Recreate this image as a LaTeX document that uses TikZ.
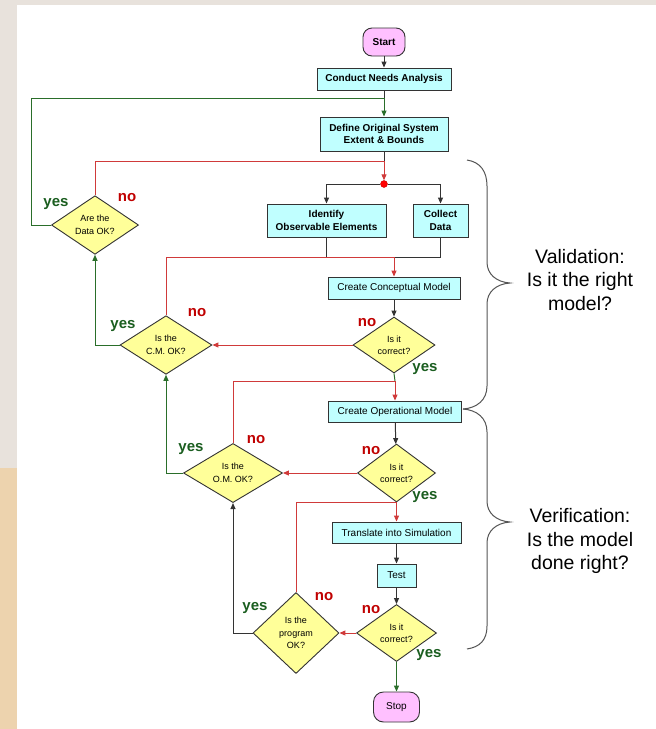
\documentclass[tikz,border=0pt]{standalone}
\usepackage{fontspec}
\setmainfont{Liberation Sans}
\usetikzlibrary{arrows.meta,shapes.geometric}

\definecolor{boxfill}{HTML}{C0FFFF}
\definecolor{pinkfill}{HTML}{FFC0FF}
\definecolor{diafill}{HTML}{FFFF99}
\definecolor{edge}{HTML}{333333}
\definecolor{glinecol}{HTML}{2A6E2A}
\definecolor{rlinecol}{HTML}{D03A3A}
\definecolor{gtext}{HTML}{1B5E20}
\definecolor{rtext}{HTML}{C00000}
\definecolor{bgtop}{HTML}{E8E2DC}
\definecolor{bgside}{HTML}{EDD3AE}
\definecolor{bracegray}{HTML}{555555}

\begin{document}
\begin{tikzpicture}[x=1pt,y=-1pt,
  tip/.tip={Triangle[length=6pt,width=5pt]},
  proc/.style={draw=edge,line width=0.9pt,fill=boxfill,inner sep=0pt,align=center,
    font=\fontsize{10}{12.5}\selectfont},
  bproc/.style={proc,font=\fontsize{10}{12.5}\selectfont\bfseries},
  term/.style={draw=edge,line width=0.9pt,fill=pinkfill,inner sep=0pt,rounded corners=9pt,
    align=center},
  dec/.style={diamond,draw=edge,line width=0.9pt,fill=diafill,inner sep=0pt,align=center,
    font=\fontsize{9}{12}\selectfont},
  bl/.style={draw=edge,line width=1pt},
  gl/.style={draw=glinecol,line width=1pt},
  rl/.style={draw=rlinecol,line width=1pt},
  yeslbl/.style={text=gtext,font=\fontsize{15}{15}\selectfont\bfseries,inner sep=0pt},
  nolbl/.style={text=rtext,font=\fontsize{15}{15}\selectfont\bfseries,inner sep=0pt},
  brace/.style={draw=bracegray,line width=1pt},
  note/.style={align=center,font=\fontsize{19.5}{23.5}\selectfont,inner sep=0pt}
]
% page background
\useasboundingbox (0,0) rectangle (656,729);
\fill[bgtop] (0,0) rectangle (656,729);
\fill[bgside] (0,468) rectangle (17,729);
\fill[white] (17,5) rectangle (656,729);

% process steps
\node[term,minimum width=42pt,minimum height=28pt,font=\fontsize{10}{12}\selectfont\bfseries] (start) at (384,42) {Start};
\node[bproc,minimum width=134pt,minimum height=22pt] (conduct) at (384,79) {Conduct Needs Analysis};
\node[bproc,minimum width=128pt,minimum height=34pt] (define) at (384,134) {Define Original System\\Extent \& Bounds};
\node[circle,fill=red,draw=red!80!black,inner sep=0pt,minimum size=7pt] (split) at (384,184) {};
\node[bproc,minimum width=119pt,minimum height=33pt] (identify) at (326.5,220.5) {Identify\\Observable Elements};
\node[bproc,minimum width=55pt,minimum height=33pt] (collect) at (440.5,220.5) {Collect\\Data};
\node[proc,minimum width=132pt,minimum height=22pt] (concept) at (394,288) {Create Conceptual Model};
\node[proc,minimum width=133pt,minimum height=21pt] (operational) at (395,411.5) {Create Operational Model};
\node[proc,minimum width=129pt,minimum height=21pt] (translate) at (396.5,532.5) {Translate into Simulation};
\node[proc,minimum width=39pt,minimum height=23pt] (test) at (396.5,575.5) {Test};
\node[term,minimum width=46pt,minimum height=30pt,rounded corners=10pt,font=\fontsize{10}{12}\selectfont] (stop) at (396.5,707) {Stop};

% decisions
\node[dec,minimum width=87pt,minimum height=56pt,font=\fontsize{9}{12.5}\selectfont] (dataok) at (95,225) {Are the\\Data OK?};
\node[dec,minimum width=82pt,minimum height=56pt] (correct1) at (394,345) {Is it\\correct?};
\node[dec,minimum width=92pt,minimum height=57pt,font=\fontsize{9}{12.5}\selectfont] (cmok) at (166,345) {Is the\\C.M. OK?};
\node[dec,minimum width=78pt,minimum height=58pt] (correct2) at (396.5,473) {Is it\\correct?};
\node[dec,minimum width=99pt,minimum height=58pt,font=\fontsize{9}{12.5}\selectfont] (omok) at (233,473) {Is the\\O.M. OK?};
\node[dec,minimum width=80pt,minimum height=57pt] (correct3) at (396.5,633) {Is it\\correct?};
\node[dec,minimum width=86pt,minimum height=81pt,font=\fontsize{9}{12.5}\selectfont] (progok) at (296,633) {Is the\\program\\OK?};

% junction points
\coordinate (gtop) at (31,98);
\coordinate (rtop) at (384,161);
\coordinate (j1) at (394,257);
\coordinate (j2) at (395,381);

% main flow
\draw[bl,-tip] (start) -- (conduct);
\draw[bl] (conduct.south) -- (conduct.south |- gtop);
\draw[gl] (dataok.west) -| (gtop) -- (gtop -| define.north);
\draw[gl,-tip] (gtop -| define.north) -- (define.north);
\draw[bl] (define.south) -- (rtop);
\draw[rl] (dataok.north) |- (rtop);
\draw[rl,-tip] (rtop) -- (split.north);
\draw[bl,-tip] (split) -| (identify.north);
\draw[bl,-tip] (split) -| (collect.north);
\draw[bl] (identify.south) -- (identify.south |- j1);
\draw[bl] (collect.south) |- (j1);
\draw[rl] (cmok.north) |- (j1);
\draw[rl,-tip] (j1) -- (concept.north);
\draw[bl,-tip] (concept) -- (correct1);
\draw[rl,-tip] (correct1.west) -- (cmok.east);
\draw[gl,-tip] (cmok.west) -| (dataok.south);
\draw[gl] (correct1.south) -- (j2);
\draw[rl] (omok.north) |- (j2);
\draw[rl,-tip] (j2) -- (operational.north);
\draw[bl,-tip] (operational) -- (correct2);
\draw[rl,-tip] (correct2.west) -- (omok.east);
\draw[gl,-tip] (omok.west) -| (cmok.south);
\draw[rl] (progok.north) |- (correct2.south);
\draw[rl,-tip] (correct2.south) -- (translate.north);
\draw[bl,-tip] (translate) -- (test);
\draw[bl,-tip] (test) -- (correct3);
\draw[rl,-tip] (correct3.west) -- (progok.east);
\draw[bl,-tip] (progok.west) -| (omok.south);
\draw[gl,-tip] (correct3.south) -- (stop.north);

% decision outcomes
\node[yeslbl] (y1) at (56,204) {yes};
\node[nolbl] (n1) at (127,198) {no};
\node[yeslbl] (y2) at (123,326) {yes};
\node[nolbl] (n2) at (197,313) {no};
\node[nolbl] (n3) at (367,323) {no};
\node[yeslbl] (y3) at (425,369) {yes};
\node[yeslbl] (y4) at (191,449) {yes};
\node[nolbl] (n4) at (256,440) {no};
\node[nolbl] (n5) at (371,451) {no};
\node[yeslbl] (y5) at (425,497) {yes};
\node[yeslbl] (y6) at (255,608) {yes};
\node[nolbl] (n6) at (324,597) {no};
\node[nolbl] (n7) at (371,610) {no};
\node[yeslbl] (y7) at (429,655) {yes};

% braces and their captions
\draw[brace] (467,160) .. controls (480,162) and (487,171) .. (487,186) -- (487,262)
  .. controls (487,274) and (496,282) .. (510,283)
  .. controls (496,284) and (487,292) .. (487,304) -- (487,386)
  .. controls (487,400) and (477,408) .. (463,409);
\draw[brace] (463,409) .. controls (477,410) and (487,418) .. (487,432) -- (487,501)
  .. controls (487,513) and (496,521) .. (510,522)
  .. controls (496,523) and (487,531) .. (487,543) -- (487,626)
  .. controls (487,640) and (480,647) .. (467,649);
\node[note] (valid) at (580,280) {Validation:\\Is it the right\\model?};
\node[note] (verif) at (580,541) {Verification:\\Is the model\\done right?};
\end{tikzpicture}
\end{document}
